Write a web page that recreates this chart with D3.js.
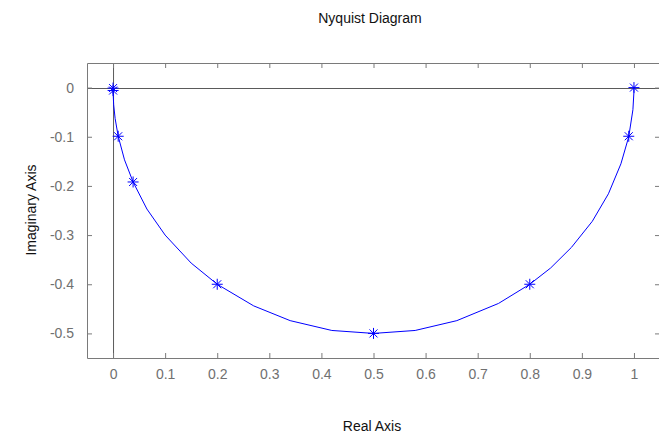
<!DOCTYPE html>
<html>
<head>
<meta charset="utf-8">
<script src="https://cdn.jsdelivr.net/npm/d3@7"></script>
<style>
body { margin: 0; background: #fff; }
svg { display: block; font-family: "Liberation Sans", Arial, sans-serif; }
</style>
</head>
<body>
<div id="chart"></div>
<script>
// Nyquist curve (real, imaginary)
var curveRe = [1, 0.9999, 0.998, 0.99, 0.975, 0.951, 0.92, 0.88, 0.84, 0.8, 0.74, 0.66, 0.58, 0.5,
    0.42, 0.34, 0.27, 0.2, 0.15, 0.1, 0.065, 0.0385, 0.022, 0.0099, 0.004, 0.0012, 0.0001, 0];
var curveIm = [0, -0.01, -0.045, -0.1, -0.155, -0.216, -0.272, -0.325, -0.367, -0.4, -0.439, -0.474, -0.494, -0.5,
    -0.494, -0.474, -0.444, -0.4, -0.357, -0.3, -0.247, -0.192, -0.147, -0.099, -0.063, -0.035, -0.01, 0];

// asterisk markers
var markRe = [1, 0.99, 0.8, 0.5, 0.2, 0.0385, 0.0099, 0.0001, 0];
var markIm = [0, -0.099, -0.4, -0.5, -0.4, -0.192, -0.099, -0.006, -0.001];

var xTicks = [0, 0.1, 0.2, 0.3, 0.4, 0.5, 0.6, 0.7, 0.8, 0.9, 1];
var yTicks = [0, -0.1, -0.2, -0.3, -0.4, -0.5];

var width = 659, height = 435;
var margin = {left: 87, top: 63, right: -1, bottom: 77};
var w = width - margin.left - margin.right;
var h = height - margin.top - margin.bottom;

var x = d3.scaleLinear().domain([-0.05, 1.05]).range([0, w]);
var y = d3.scaleLinear().domain([-0.55, 0.05]).range([h, 0]);

var svg = d3.select("#chart").append("svg")
    .attr("width", width)
    .attr("height", height);

var g = svg.append("g")
    .attr("transform", "translate(" + margin.left + "," + margin.top + ")");

var grey = "#7a7a7a";

// zero lines
g.append("line").attr("x1", x(0) + 0.5).attr("x2", x(0) + 0.5)
    .attr("y1", 0).attr("y2", h).attr("stroke", "#5a5a5a");
g.append("line").attr("x1", 0).attr("x2", w)
    .attr("y1", Math.round(y(0)) + 0.5).attr("y2", Math.round(y(0)) + 0.5).attr("stroke", "#5a5a5a");

function styleAxis(sel, showText) {
    sel.select(".domain").attr("stroke", grey);
    sel.selectAll(".tick line").attr("stroke", grey);
    sel.selectAll(".tick text")
        .attr("fill", "#707070")
        .style("font-size", "14px");
    if (!showText) sel.selectAll(".tick text").remove();
}

// plain hyphen for negatives, like the reference
var fmt = function(d) { return d === 0 ? "0" : String(+d.toFixed(1)); };

g.append("g").attr("transform", "translate(0," + h + ")")
    .call(d3.axisBottom(x).tickValues(xTicks).tickFormat(fmt).tickSizeInner(-5).tickSizeOuter(0).tickPadding(11))
    .call(styleAxis, true);
g.append("g")
    .call(d3.axisTop(x).tickValues(xTicks).tickSizeInner(-5).tickSizeOuter(0))
    .call(styleAxis, false);
g.append("g")
    .call(d3.axisLeft(y).tickValues(yTicks).tickFormat(fmt).tickSizeInner(-5).tickSizeOuter(0).tickPadding(13))
    .call(styleAxis, true);
g.append("g").attr("transform", "translate(" + w + ",0)")
    .call(d3.axisRight(y).tickValues(yTicks).tickSizeInner(-5).tickSizeOuter(0))
    .call(styleAxis, false);

// curve
var pts = curveRe.map(function(d, i) { return [d, curveIm[i]]; });
var line = d3.line().x(function(d) { return x(d[0]); }).y(function(d) { return y(d[1]); });
g.append("path").datum(pts)
    .attr("d", line)
    .attr("fill", "none")
    .attr("stroke", "#0000ff")
    .attr("stroke-width", 1);

// asterisks
var r = 5.5, rd = 4;
var star = "M" + (-r) + ",0H" + r + "M0," + (-r) + "V" + r +
    "M" + (-rd) + "," + (-rd) + "L" + rd + "," + rd +
    "M" + (-rd) + "," + rd + "L" + rd + "," + (-rd);
g.selectAll("path.mark").data(markRe.map(function(d, i) { return [d, markIm[i]]; }))
    .enter().append("path")
    .attr("class", "mark")
    .attr("transform", function(d) { return "translate(" + x(d[0]) + "," + y(d[1]) + ")"; })
    .attr("d", star)
    .attr("fill", "none")
    .attr("stroke", "#0000ff")
    .attr("stroke-width", 1);

// labels
svg.append("text")
    .attr("x", 370).attr("y", 23)
    .attr("text-anchor", "middle")
    .style("font-size", "14px")
    .attr("fill", "#111")
    .text("Nyquist Diagram");

svg.append("text")
    .attr("x", 372).attr("y", 431)
    .attr("text-anchor", "middle")
    .style("font-size", "14px")
    .attr("fill", "#111")
    .text("Real Axis");

svg.append("text")
    .attr("transform", "translate(36," + 210 + ") rotate(-90)")
    .attr("text-anchor", "middle")
    .style("font-size", "14px")
    .attr("fill", "#111")
    .text("Imaginary Axis");
</script>
</body>
</html>
